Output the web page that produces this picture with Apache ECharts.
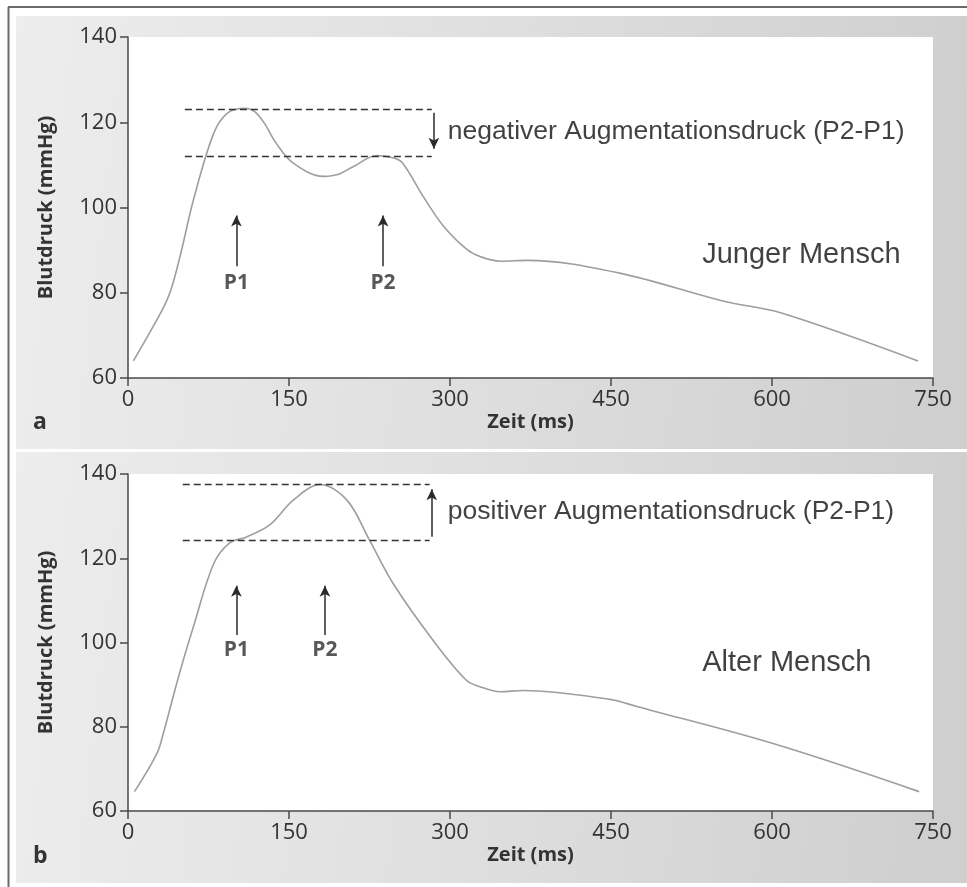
<!DOCTYPE html>
<html>
<head>
<meta charset="utf-8">
<title>Pulswellenanalyse: Augmentationsdruck</title>
<script src="https://cdn.jsdelivr.net/npm/echarts@6/dist/echarts.min.js"></script>
<style>
  html, body { margin: 0; padding: 0; background: #ffffff; }
  #chart { width: 967px; height: 887px; }
</style>
</head>
<body>
<div id="chart"></div>
<script>
// Axis scales
const xTicks = [0, 150, 300, 450, 600, 750];
const yTicks = [60, 80, 100, 120, 140];

// Panel a: young person, pressure curve over time
const youngTime     = [5, 27, 36.5, 42, 50, 61, 80, 93, 109, 118, 127, 138, 154, 182, 191, 198, 210, 232, 247.6, 256, 275, 294, 316, 328, 347, 372, 458, 555, 608, 736];
const youngPressure = [64, 73.7, 78.4, 82.3, 90.1, 101.8, 117.5, 122.2, 123.3, 122.5, 119.8, 115.1, 110.4, 107.3, 107.5, 108, 109.6, 112.2, 111.6, 110.4, 102.6, 95.6, 90.1, 88.5, 87.4, 87.6, 84.6, 78, 75.3, 64];

// Panel b: old person, pressure curve over time
const oldTime     = [6, 27, 33, 48, 61, 80, 95, 110, 132, 154, 179, 204, 225, 247, 284, 315, 328, 347, 368, 449, 474, 601, 737];
const oldPressure = [64.6, 73.7, 78.5, 92.7, 103.8, 118.8, 123.7, 125, 127.9, 133.8, 137.5, 133.8, 124.3, 114, 100.6, 91.1, 89.5, 88.3, 88.6, 86.5, 84.8, 76, 64.6];

// Peak levels P1 / P2 (mmHg) and the time span of their reference lines (ms)
const youngPeaks = { P1: 123, P2: 112 };
const oldPeaks   = { P1: 124.3, P2: 137.5 };
const youngLevelSpan = [53, 283];
const oldLevelSpan   = [51, 281];

// Pointer arrows below each peak: time and [from, to] pressure
const youngPointers = [ { name: 'P1', t: 101, from: 86.2, to: 98.1, labelY: 82.4 },
                        { name: 'P2', t: 237.6, from: 86.2, to: 98.1, labelY: 82.4 } ];
const oldPointers   = [ { name: 'P1', t: 101, from: 101.8, to: 113.5, labelY: 98.1 },
                        { name: 'P2', t: 183.5, from: 101.8, to: 113.5, labelY: 98.1 } ];

// Difference arrows (P2-P1)
const youngDelta = { t: 285, from: 122.2, to: 113.8 };
const oldDelta   = { t: 283, from: 125.1, to: 136.4 };

// Annotation texts with anchor (time, pressure)
const youngNotes = [ { text: 'negativer Augmentationsdruck (P2-P1)', t: 298, p: 117.9, size: 26.5 },
                     { text: 'Junger Mensch', t: 535, p: 88.9, size: 29 } ];
const oldNotes   = [ { text: 'positiver Augmentationsdruck (P2-P1)', t: 298, p: 131.0, size: 26.5 },
                     { text: 'Alter Mensch', t: 535, p: 95.2, size: 29 } ];

const TICK_FONT = '"Open Sans", "DejaVu Sans", sans-serif';
const NOTE_FONT = '"Liberation Sans", Arial, sans-serif';
const AXIS_COLOR = '#4a4a4a';

function zip(xs, ys) { return xs.map((x, i) => [x, ys[i]]); }

function xAxisFor(gridIndex) {
  return {
    type: 'value', gridIndex: gridIndex,
    min: xTicks[0], max: xTicks[xTicks.length - 1], interval: xTicks[1] - xTicks[0],
    name: 'Zeit (ms)', nameLocation: 'middle', nameGap: 34,
    nameTextStyle: { fontFamily: TICK_FONT, fontWeight: 'bold', fontSize: 20, color: '#333' },
    axisLine: { show: true, lineStyle: { color: AXIS_COLOR, width: 1.5 } },
    axisTick: { show: true, length: 8, lineStyle: { color: AXIS_COLOR, width: 1.5 } },
    axisLabel: { margin: 11, fontFamily: TICK_FONT, fontSize: 22, color: '#333' },
    splitLine: { show: false }
  };
}
function yAxisFor(gridIndex) {
  return {
    type: 'value', gridIndex: gridIndex,
    min: yTicks[0], max: yTicks[yTicks.length - 1], interval: yTicks[1] - yTicks[0],
    name: 'Blutdruck (mmHg)', nameLocation: 'middle', nameGap: 72, nameRotate: 90,
    nameTextStyle: { fontFamily: TICK_FONT, fontWeight: 'bold', fontSize: 20, color: '#333' },
    axisLine: { show: true, lineStyle: { color: AXIS_COLOR, width: 1.5 } },
    axisTick: { show: true, length: 8, lineStyle: { color: AXIS_COLOR, width: 1.5 } },
    axisLabel: { margin: 11, fontFamily: TICK_FONT, fontSize: 22, color: '#333' },
    splitLine: { show: false }
  };
}

function panelSeries(idx, time, pressure, peaks, span, pointers, delta, notes) {
  const curve = {
    type: 'line', xAxisIndex: idx, yAxisIndex: idx,
    data: zip(time, pressure), smooth: 0.35, showSymbol: false, silent: true,
    lineStyle: { color: '#9e9e9e', width: 1.6 }, z: 3
  };
  const guides = {
    type: 'line', xAxisIndex: idx, yAxisIndex: idx, data: [], silent: true,
    markLine: {
      silent: true, animation: false, symbol: ['none', 'none'],
      label: { show: false },
      lineStyle: { color: '#333', width: 1.3, type: [7, 4] },
      data: [
        [{ coord: [span[0], peaks.P1] }, { coord: [span[1], peaks.P1] }],
        [{ coord: [span[0], peaks.P2] }, { coord: [span[1], peaks.P2] }]
      ]
    }
  };
  const arrowEnd = (t, p) => ({ coord: [t, p], symbol: 'arrow', symbolSize: [8, 11] });
  const arrows = {
    type: 'line', xAxisIndex: idx, yAxisIndex: idx, data: [], silent: true,
    markLine: {
      silent: true, animation: false, symbol: ['none', 'arrow'],
      label: { show: false },
      lineStyle: { color: '#2a2a2a', width: 1.5, type: 'solid' },
      data: pointers.map(a => [{ coord: [a.t, a.from], symbol: 'none' }, arrowEnd(a.t, a.to)])
        .concat([[{ coord: [delta.t, delta.from], symbol: 'none' }, arrowEnd(delta.t, delta.to)]])
    }
  };
  const peakLabels = {
    type: 'scatter', xAxisIndex: idx, yAxisIndex: idx, silent: true, symbolSize: 0,
    data: pointers.map(a => ({ name: a.name, value: [a.t, a.labelY] })),
    label: { show: true, position: 'inside', formatter: '{b}',
             fontFamily: TICK_FONT, fontWeight: 'bold', fontSize: 21, color: '#2e2e2e' }
  };
  const noteLabels = {
    type: 'scatter', xAxisIndex: idx, yAxisIndex: idx, silent: true, symbolSize: 0,
    data: notes.map(n => ({
      name: n.text, value: [n.t, n.p],
      label: { fontSize: n.size }
    })),
    label: { show: true, position: 'right', distance: 0, formatter: '{b}',
             fontFamily: NOTE_FONT, color: '#111', align: 'left', verticalAlign: 'middle' }
  };
  return [curve, guides, arrows, peakLabels, noteLabels];
}

const panelFill = {
  type: 'linear', x: 0, y: 0, x2: 1, y2: 0.25,
  colorStops: [
    { offset: 0, color: '#ededed' },
    { offset: 0.5, color: '#dfdfdf' },
    { offset: 1, color: '#cfcfcf' }
  ]
};

const option = {
  backgroundColor: '#ffffff',
  animation: false,
  grid: [
    { left: 128, top: 37, width: 805, height: 341, show: true, backgroundColor: '#ffffff', borderWidth: 0 },
    { left: 128, top: 474, width: 805, height: 337, show: true, backgroundColor: '#ffffff', borderWidth: 0 }
  ],
  xAxis: [xAxisFor(0), xAxisFor(1)],
  yAxis: [yAxisFor(0), yAxisFor(1)],
  graphic: [
    { type: 'rect', z: -10, shape: { x: 16, y: 16, width: 951, height: 433 }, style: { fill: panelFill } },
    { type: 'rect', z: -10, shape: { x: 16, y: 452, width: 951, height: 431 }, style: { fill: panelFill } },
    { type: 'line', z: -5, shape: { x1: 8.5, y1: 7, x2: 8.5, y2: 887 }, style: { stroke: '#6a6a6a', lineWidth: 2 } },
    { type: 'line', z: -5, shape: { x1: 8, y1: 7, x2: 967, y2: 7 }, style: { stroke: '#6a6a6a', lineWidth: 2 } },
    { type: 'text', left: 33, top: 411, style: { text: 'a', font: 'bold 23px "Open Sans", sans-serif', fill: '#333' } },
    { type: 'text', left: 33, top: 845, style: { text: 'b', font: 'bold 23px "Open Sans", sans-serif', fill: '#333' } }
  ],
  series: [].concat(
    panelSeries(0, youngTime, youngPressure, youngPeaks, youngLevelSpan, youngPointers, youngDelta, youngNotes),
    panelSeries(1, oldTime, oldPressure, oldPeaks, oldLevelSpan, oldPointers, oldDelta, oldNotes)
  )
};

const chart = echarts.init(document.getElementById('chart'), null, { renderer: 'canvas' });
chart.setOption(option);
</script>
</body>
</html>
